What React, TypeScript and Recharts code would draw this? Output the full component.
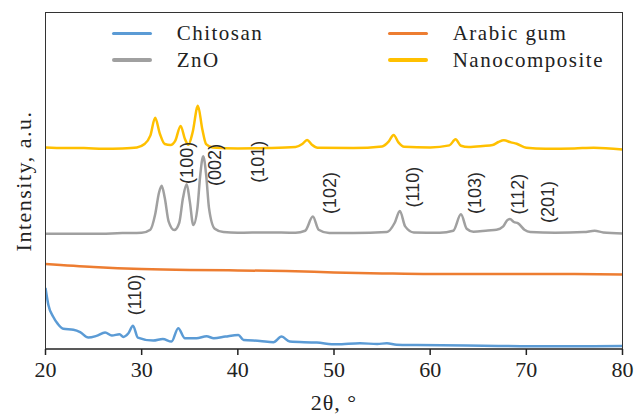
import React from 'react';
import { LineChart, Line, XAxis, YAxis, ReferenceDot, Label } from 'recharts';

// 2θ (deg) / intensity (a.u., stacked offsets)
const CHITOSAN: [number, number][] = [
  [20, 18.2], [20.3, 13.1], [20.8, 9.6], [21.3, 7.4], [21.85, 6.0], [22.9, 5.7], [23.6, 5.0],
  [24.45, 3.4], [25.3, 3.9], [26.2, 4.9], [26.9, 4.0], [27.7, 4.4], [28.1, 3.6], [28.6, 4.6],
  [29.1, 6.9], [29.6, 3.4], [31.2, 2.5], [32.2, 3.0], [33.1, 2.2], [33.8, 6.2], [34.5, 3.2],
  [35.7, 3.2], [36.75, 3.8], [37.5, 3.2], [38.7, 3.7], [40.05, 4.2], [40.6, 2.7], [42.3, 2.4],
  [43.7, 2.0], [44.55, 3.7], [45.4, 2.2], [48.2, 1.9], [50.3, 1.4], [52.7, 1.7], [54.5, 1.5],
  [55.5, 1.7], [56.5, 1.3], [58.6, 1.2], [65.5, 1.0], [72.4, 0.8], [80, 0.9],
];

const ARABIC_GUM: [number, number][] = [
  [20, 25.3], [25, 24.4], [30, 23.8], [35, 23.5], [40, 23.4], [45, 23.2], [50, 22.8],
  [55, 22.5], [60, 22.3], [65, 22.3], [70, 22.3], [75, 22.3], [80, 22.2],
];

const ZNO: [number, number][] = [
  [20, 34.3], [25, 34.3], [28, 34.5], [30, 34.6], [30.9, 35.5], [31.4, 40], [31.8, 46.5],
  [32.08, 48.6], [32.4, 45], [32.8, 38], [33.4, 35.4], [33.9, 37.5], [34.3, 45], [34.68, 49.0],
  [35.0, 44], [35.37, 36.9], [35.8, 42], [36.1, 52], [36.4, 57.4], [36.7, 52], [37.0, 42],
  [37.6, 35.8], [38.5, 34.8], [40, 34.6], [43, 34.7], [46, 34.6], [47.0, 35.2], [47.8, 39.4],
  [48.4, 35.5], [49.5, 34.5], [52, 34.5], [55.5, 34.8], [56.3, 37.5], [56.85, 41.1], [57.4, 36.5],
  [58.3, 34.7], [61, 34.6], [62.4, 35.2], [63.2, 40.1], [63.8, 35.8], [64.5, 34.9], [66, 35.3],
  [66.9, 35.5], [67.6, 36.5], [68.0, 38.3], [68.3, 38.7], [68.7, 37.8], [69.15, 37.4], [69.8, 35.5],
  [70.4, 34.8], [73, 34.6], [76, 34.8], [77.1, 35.2], [78, 34.7], [80, 34.4],
];

const NANOCOMPOSITE: [number, number][] = [
  [20, 60.0], [22, 59.8], [24, 59.8], [26, 59.6], [28, 59.7], [29.5, 60.0], [30.3, 61.0],
  [30.9, 63.5], [31.4, 68.8], [31.9, 64.0], [32.4, 61.0], [33.0, 60.7], [33.5, 62.0], [34.05, 66.4],
  [34.5, 62.5], [34.85, 60.8], [35.3, 64.5], [35.85, 72.4], [36.3, 65.5], [36.7, 61.0], [37.4, 60.0],
  [40, 59.7], [43, 59.8], [46, 60.1], [46.7, 61.0], [47.2, 62.2], [47.7, 60.8], [48.3, 59.9],
  [52, 59.8], [55, 60.3], [55.7, 61.8], [56.2, 63.7], [56.7, 61.5], [57.3, 60.2], [60, 60.0],
  [62.0, 60.6], [62.64, 62.4], [63.2, 60.5], [64, 60.1], [65.5, 60.4], [66.5, 60.7], [67.1, 61.6],
  [67.66, 62.1], [68.4, 61.5], [69.0, 61.1], [70.0, 59.9], [72, 59.6], [75, 59.7], [77, 59.9], [80, 59.4],
];

// Miller index annotations: [2θ, y, text]
const PEAK_LABELS: [number, number, string][] = [
  [34.71, 55.4, '(100)'],
  [37.62, 54.8, '(002)'],
  [42.09, 55.7, '(101)'],
  [49.57, 46.4, '(102)'],
  [58.2, 48.2, '(110)'],
  [64.64, 46.4, '(103)'],
  [69.1, 46.1, '(112)'],
  [72.2, 43.75, '(201)'],
  [29.3, 16.1, '(110)'],
];

const THETA_TICKS = [20, 30, 40, 50, 60, 70, 80];
const X_DOMAIN = [20, 80];
const Y_DOMAIN = [0, 100];

const SERIES = [
  { name: 'Chitosan', data: CHITOSAN, color: '#5B9BD5' },
  { name: 'Arabic gum', data: ARABIC_GUM, color: '#ED7D31' },
  { name: 'ZnO', data: ZNO, color: '#A0A0A0' },
  { name: 'Nanocomposite', data: NANOCOMPOSITE, color: '#FFC000' },
];

const toPoints = (pairs: [number, number][]) => pairs.map(([t, v]) => ({ t, v }));

const SERIF = 'Liberation Serif, DejaVu Serif, serif';
const SANS = 'Liberation Sans, Arial, sans-serif';
const FRAME = '#333';

const MARGIN = { top: 13, right: 14.5, left: 45.5, bottom: 25 };
const W = 637;
const H = 414;
const X_AXIS_H = 40;

export default function App() {
  return (
    <div style={{ position: 'absolute', left: 0, top: 0, width: W, height: H, background: '#fff' }}>
      <LineChart width={W} height={H} margin={MARGIN}>
        <XAxis
          dataKey="t"
          type="number"
          domain={X_DOMAIN}
          ticks={THETA_TICKS}
          height={X_AXIS_H}
          tickSize={6}
          tickMargin={6}
          stroke="#222"
          strokeWidth={1.5}
          tick={{ fontFamily: SERIF, fontSize: 22, fill: '#222' }}
          allowDataOverflow
        >
          <Label
            content={(p: any) => {
              const vb = p.viewBox || { x: 45.5, y: 349, width: 577, height: 40 };
              return (
                <text x={vb.x + vb.width / 2} y={410} textAnchor="middle" fontFamily={SERIF} fontSize={22} fill="#222" letterSpacing={1}>
                  2θ, °
                </text>
              );
            }}
          />
        </XAxis>
        <YAxis type="number" domain={Y_DOMAIN} width={0} hide allowDataOverflow />

        {SERIES.map((s) => (
          <Line
            key={s.name}
            name={s.name}
            data={toPoints(s.data)}
            dataKey="v"
            type="monotone"
            stroke={s.color}
            strokeWidth={2.5}
            dot={false}
            activeDot={false}
            isAnimationActive={false}
          />
        ))}

        {PEAK_LABELS.map(([t, v, text], i) => (
          <ReferenceDot
            key={i}
            x={t}
            y={v}
            r={0}
            fill="none"
            stroke="none"
            label={{ value: text, position: 'center', angle: -90, fontFamily: SANS, fontSize: 18, fill: '#2a2a2a' }}
          />
        ))}
      </LineChart>

      {/* box frame: left, top and right edges of the plot area */}
      <div
        style={{
          position: 'absolute',
          left: MARGIN.left - 0.75,
          top: MARGIN.top - 0.75,
          width: W - MARGIN.left - MARGIN.right + 1.5,
          height: H - MARGIN.top - MARGIN.bottom - X_AXIS_H + 0.75,
          borderTop: `1.5px solid ${FRAME}`,
          borderLeft: `1.5px solid ${FRAME}`,
          borderRight: `1.5px solid ${FRAME}`,
          boxSizing: 'border-box',
          pointerEvents: 'none',
        }}
      />

      {/* y-axis title */}
      <div
        style={{
          position: 'absolute',
          left: 24,
          top: MARGIN.top + (H - MARGIN.top - MARGIN.bottom - X_AXIS_H) / 2,
          transform: 'translate(-50%, -50%) rotate(-90deg)',
          whiteSpace: 'nowrap',
          fontFamily: SERIF,
          fontSize: 22,
          letterSpacing: 1.5,
          color: '#222',
          lineHeight: 1,
        }}
      >
        Intensity, a.u.
      </div>

      <div
        style={{
          position: 'absolute',
          left: 111.7,
          top: 20,
          display: 'grid',
          gridTemplateColumns: '276px auto',
          fontFamily: SERIF,
          fontSize: 21,
          letterSpacing: 1.5,
          color: '#222',
        }}
      >
        {SERIES.map((s) => (
          <div key={s.name} style={{ display: 'flex', alignItems: 'center', height: 26.7 }}>
            <span style={{ display: 'inline-block', width: 40, height: 3.5, background: s.color, borderRadius: 2 }} />
            <span style={{ marginLeft: 25 }}>{s.name}</span>
          </div>
        ))}
      </div>
    </div>
  );
}
